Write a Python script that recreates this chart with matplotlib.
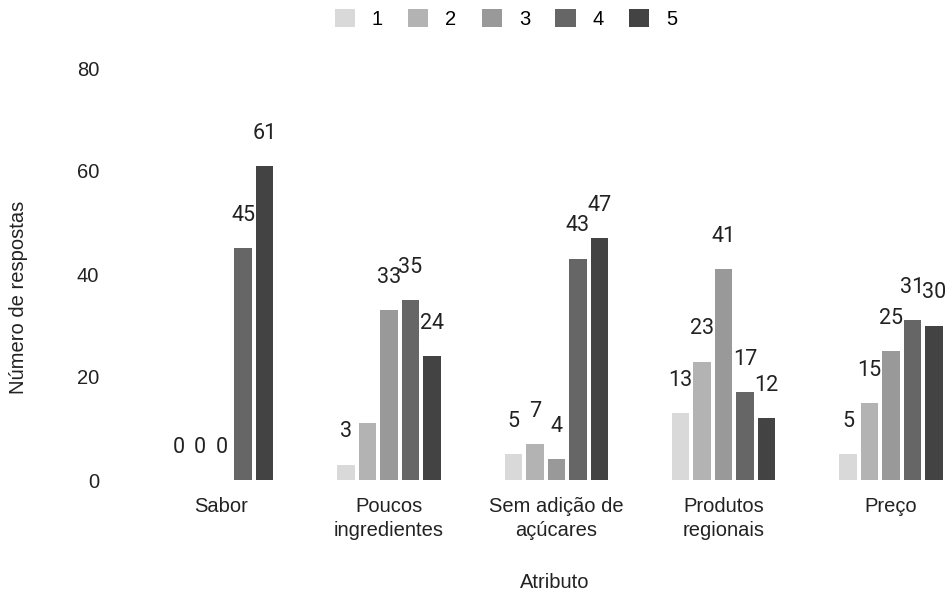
import numpy as np
import matplotlib.pyplot as plt
from matplotlib.patches import Patch

# Data
categories = ['Sabor', 'Poucos\ningredientes', 'Sem adição de\naçúcares', 'Produtos\nregionais', 'Preço']
series_names = ['1', '2', '3', '4', '5']
s1 = [0, 3, 5, 13, 5]
s2 = [0, 11, 7, 23, 15]
s3 = [0, 33, 4, 41, 25]
s4 = [45, 35, 43, 17, 31]
s5 = [61, 24, 47, 12, 30]
# labels not shown in the original chart (series index, category index)
hidden_labels = [(1, 1)]

colors = ['#d9d9d9', '#b3b3b3', '#999999', '#666666', '#434343']
values = [s1, s2, s3, s4, s5]

axis_font = 'Liberation Sans'
label_font = 'Roboto'

fig = plt.figure(figsize=(9.46, 5.95), dpi=100)
ax = fig.add_axes([138 / 946, 115 / 595, 808 / 946, 412 / 595])

x = np.arange(len(categories))
pitch = 0.1284
width = 0.1045

for i, vals in enumerate(values):
    xs = x + (i - 2) * pitch
    ax.bar(xs, vals, width=width, color=colors[i], zorder=2)
    for j, v in enumerate(vals):
        if (i, j) in hidden_labels:
            continue
        ax.annotate(str(v), (xs[j], v), xytext=(0, 19.5), textcoords='offset points',
                    ha='center', va='baseline', fontsize=15.5, family=label_font,
                    color='#222222')

ax.set_xlim(-0.499, 4.328)
ax.set_ylim(0, 80)
ax.set_yticks([0, 20, 40, 60, 80])
ax.set_xticks(x)
ax.set_xticklabels(categories, family=axis_font, fontsize=14.5, color='#222222', linespacing=1.35)
ax.set_yticklabels(['0', '20', '40', '60', '80'], family=axis_font, fontsize=14.5, color='#222222')
ax.tick_params(axis='both', length=0)
ax.tick_params(axis='y', pad=28)
ax.tick_params(axis='x', pad=12)
for sp in ax.spines.values():
    sp.set_visible(False)

fig.text(18 / 946, 1 - 297 / 595, 'Número de respostas', rotation=90, ha='center', va='center',
         family=axis_font, fontsize=14.5, color='#222222')
fig.text(555 / 946, 1 - 583 / 595, 'Atributo', ha='center', va='center',
         family=axis_font, fontsize=14.5, color='#222222')

handles = [Patch(facecolor=c, edgecolor='none') for c in colors]
fig.legend(handles, series_names, loc='center', bbox_to_anchor=(506 / 946, 1 - 19 / 595), ncol=5,
           frameon=False, prop={'family': axis_font, 'size': 14.5}, handlelength=1.0,
           handleheight=1.0, handletextpad=0.85, columnspacing=1.25)

fig.savefig('out.png', dpi=100)
